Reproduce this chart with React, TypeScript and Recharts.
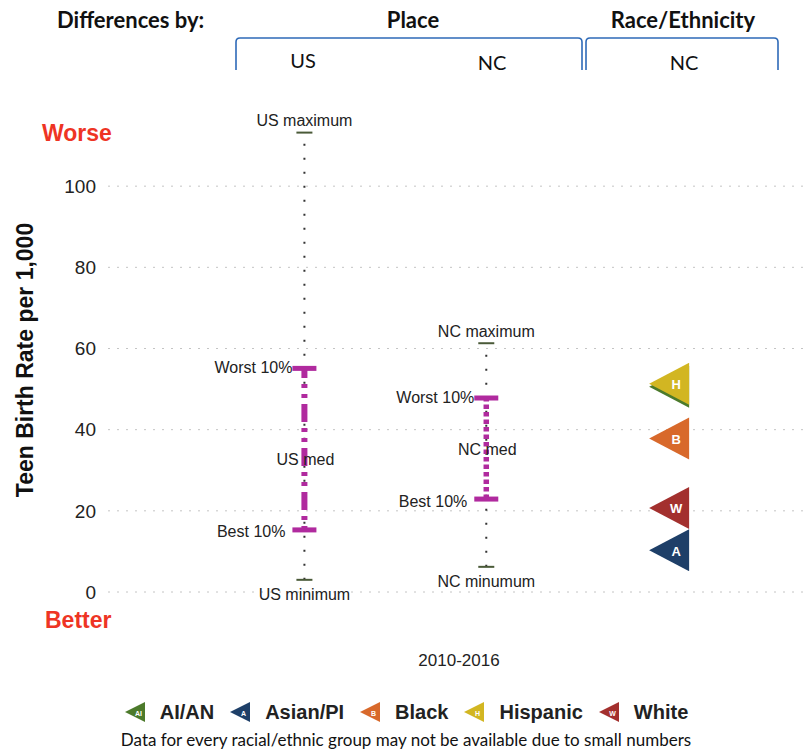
import React from 'react';
import { ComposedChart, Scatter, XAxis, YAxis, CartesianGrid, ReferenceLine, Legend } from 'recharts';

// ---- data ----
const places = ['US', 'NC'];
const placeMax = [113.2, 61.3];
const placeWorst10 = [55.1, 47.8];
const placeMedian = [32.7, 35.0];
const placeBest10 = [15.3, 22.9];
const placeMin = [3.0, 6.2];
const maxLabels = ['US maximum', 'NC maximum'];
const medLabels = ['US med', 'NC med'];
const minLabels = ['US minimum', 'NC minumum'];

const raceGroups = ['AI/AN', 'Asian/PI', 'Black', 'Hispanic', 'White'];
const raceCodes = ['AI', 'A', 'B', 'H', 'W'];
const raceValues = [50.6, 10.3, 37.8, 51.3, 20.7];
const raceColors = ['#4C7A2B', '#1E3F68', '#D8692B', '#D2B622', '#A3302E'];

const yTicks = [0, 20, 40, 60, 80, 100];
const periodLabel = '2010-2016';
const yAxisTitle = 'Teen Birth Rate per 1,000';
const headerGroups = ['Place', 'Race/Ethnicity'];
const headerCols = ['US', 'NC', 'NC'];
const footnote = 'Data for every racial/ethnic group may not be available due to small numbers';

// ---- styles ----
const MAGENTA = '#B02A9E';
const SANS = 'Liberation Sans, Arial, sans-serif';
const CAL = 'Lato, Carlito, sans-serif';
const RACE_COL = places.length + 1;

const capRows = places.flatMap((p, i) => [
  { x: i + 1, y: placeMax[i], label: maxLabels[i], kind: 'max' },
  { x: i + 1, y: placeMin[i], label: minLabels[i], kind: 'min' },
]);
const barRows = places.flatMap((p, i) => [
  { x: i + 1, y: placeWorst10[i], label: 'Worst 10%', kind: 'worst' },
  { x: i + 1, y: placeBest10[i], label: 'Best 10%', kind: 'best' },
]);
const medRows = places.map((p, i) => ({ x: i + 1, y: placeMedian[i], label: medLabels[i] }));
// a marker drawn under a later one that nearly coincides with it is hidden, so its letter is not drawn
const raceRows = raceGroups.map((g, i) => ({
  x: RACE_COL,
  y: raceValues[i],
  code: raceCodes[i],
  color: raceColors[i],
  name: g,
  covered: raceValues.some((v, j) => j > i && Math.abs(v - raceValues[i]) < 2),
}));

const CapShape = (props: any) => {
  const { cx, cy, payload } = props;
  const above = payload.kind === 'max';
  return (
    <g>
      <line x1={cx - 8} x2={cx + 8} y1={cy} y2={cy} stroke="#4a5a38" strokeWidth={2} />
      <text x={cx} y={above ? cy - 12 : cy + 15} textAnchor="middle" dominantBaseline="central"
        fontSize={16} fill="#222" fontFamily={SANS}>{payload.label}</text>
    </g>
  );
};

const BarShape = (props: any) => {
  const { cx, cy, payload } = props;
  const worst = payload.kind === 'worst';
  return (
    <g>
      <text x={cx - (worst ? 12 : 19)} y={worst ? cy - 1 : cy + 2} textAnchor="end" dominantBaseline="central"
        fontSize={16} fill="#222" fontFamily={SANS}>{payload.label}</text>
      <rect x={cx - 12} y={cy - 2.5} width={24} height={5} fill={MAGENTA} />
    </g>
  );
};

const MedShape = (props: any) => {
  const { cx, cy, payload } = props;
  return (
    <text x={cx + 1} y={cy} textAnchor="middle" dominantBaseline="central"
      fontSize={16} fill="#222" fontFamily={SANS}>{payload.label}</text>
  );
};

const TriShape = (props: any) => {
  const { cx, cy, payload } = props;
  return (
    <g>
      <polygon points={`${cx - 19},${cy} ${cx + 21},${cy - 21} ${cx + 21},${cy + 21}`} fill={payload.color} />
      {!payload.covered && (
        <text x={cx + 8} y={cy + 1} textAnchor="middle" dominantBaseline="central" fontSize={13}
          fontWeight="bold" fill="#fff" fontFamily={SANS}>{payload.code}</text>
      )}
    </g>
  );
};

const LegendIcon = ({ color, code }: { color: string; code: string }) => (
  <svg width={22} height={22} style={{ display: 'block' }}>
    <polygon points="1,11 21,1 21,21" fill={color} />
    <text x={14.5} y={12} textAnchor="middle" dominantBaseline="central" fontSize={7} fontWeight="bold"
      fill="#fff" fontFamily={SANS}>{code}</text>
  </svg>
);

const LegendContent = () => (
  <div style={{ width: 812, textAlign: 'center' }}>
    <div style={{ display: 'flex', justifyContent: 'center', alignItems: 'center', height: 26 }}>
      {raceGroups.map((g, i) => (
        <div key={g} style={{ display: 'flex', alignItems: 'center', marginLeft: i === 0 ? 0 : 15 }}>
          <LegendIcon color={raceColors[i]} code={raceCodes[i]} />
          <span style={{ marginLeft: 14, fontFamily: SANS, fontWeight: 'bold', fontSize: 20, color: '#222' }}>{g}</span>
        </div>
      ))}
    </div>
    <div style={{ marginTop: 4, fontFamily: CAL, fontSize: 17, color: '#111' }}>{footnote}</div>
  </div>
);

export default function App() {
  return (
    <div style={{ position: 'absolute', left: 0, top: 0, width: 812, height: 756, background: '#fff' }}>
      <ComposedChart width={812} height={756} margin={{ top: 105, right: 2, bottom: 164, left: 0 }}>
        <CartesianGrid horizontal vertical={false} horizontalValues={yTicks} stroke="#c4c4c4" strokeDasharray="2 7" />
        <XAxis type="number" dataKey="x" domain={[-0.08, 3.78]} hide allowDataOverflow />
        <YAxis type="number" dataKey="y" domain={[0, 120]} ticks={yTicks} width={108}
          axisLine={false} tickLine={false} tickSize={0} tickMargin={12}
          tick={{ fontSize: 19, fill: '#222', fontFamily: SANS }} />
        {places.map((p, i) => (
          <ReferenceLine key={'v' + p} segment={[{ x: i + 1, y: placeMin[i] }, { x: i + 1, y: placeMax[i] }]}
            stroke="#333" strokeWidth={2} strokeDasharray="2 12" />
        ))}
        <Scatter data={medRows} shape={MedShape} isAnimationActive={false} />
        {places.map((p, i) => (
          <ReferenceLine key={'m' + p} segment={[{ x: i + 1, y: placeBest10[i] }, { x: i + 1, y: placeWorst10[i] }]}
            stroke={MAGENTA} strokeWidth={i === 0 ? 6 : 5.5} strokeDasharray={i === 0 ? '4 6 4 6 18 6' : '4.5 3'} />
        ))}
        <Scatter data={capRows} shape={CapShape} isAnimationActive={false} />
        <Scatter data={barRows} shape={BarShape} isAnimationActive={false} />
        <Scatter data={raceRows} shape={TriShape} isAnimationActive={false} />
        <Legend layout="horizontal" verticalAlign="middle" align="center" content={LegendContent}
          wrapperStyle={{ top: 699, left: 0, width: 812 }} />
      </ComposedChart>
      <svg width={812} height={756} style={{ position: 'absolute', left: 0, top: 0, pointerEvents: 'none' }}>
        <text x={57} y={19} dominantBaseline="central" fontFamily={CAL} fontWeight="bold" fontSize={22} fill="#111">Differences by:</text>
        <text x={413} y={19} textAnchor="middle" dominantBaseline="central" fontFamily={CAL} fontWeight="bold" fontSize={22} fill="#111">{headerGroups[0]}</text>
        <text x={683} y={19} textAnchor="middle" dominantBaseline="central" fontFamily={CAL} fontWeight="bold" fontSize={22} fill="#111">{headerGroups[1]}</text>
        <path d="M236,70 L236,42 Q236,38 240,38 L578,38 Q582,38 582,42 L582,70" fill="none" stroke="#2E6AB8" strokeWidth={1.6} />
        <path d="M586,70 L586,42 Q586,38 590,38 L774,38 Q778,38 778,42 L778,70" fill="none" stroke="#2E6AB8" strokeWidth={1.6} />
        <text x={303} y={60} textAnchor="middle" dominantBaseline="central" fontFamily={CAL} fontSize={20} fill="#111">{headerCols[0]}</text>
        <text x={492} y={62} textAnchor="middle" dominantBaseline="central" fontFamily={CAL} fontSize={20} fill="#111">{headerCols[1]}</text>
        <text x={684} y={62} textAnchor="middle" dominantBaseline="central" fontFamily={CAL} fontSize={20} fill="#111">{headerCols[2]}</text>
        <text x={42} y={133} dominantBaseline="central" fontFamily={SANS} fontWeight="bold" fontSize={23} fill="#EE3424">Worse</text>
        <text x={45} y={620} dominantBaseline="central" fontFamily={SANS} fontWeight="bold" fontSize={23} fill="#EE3424">Better</text>
        <text transform="translate(25,360) rotate(-90)" textAnchor="middle" dominantBaseline="central"
          fontFamily={SANS} fontWeight="bold" fontSize={23} fill="#111">{yAxisTitle}</text>
        <text x={459} y={660} textAnchor="middle" dominantBaseline="central" fontFamily={SANS} fontSize={17} fill="#222">{periodLabel}</text>
      </svg>
    </div>
  );
}
